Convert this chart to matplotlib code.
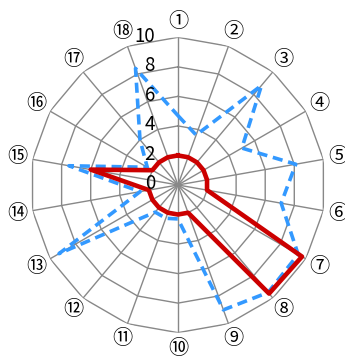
import numpy as np
import matplotlib
matplotlib.use('Agg')
import matplotlib.pyplot as plt
from matplotlib.transforms import offset_copy

plt.rcParams['font.family'] = ['Noto Sans CJK JP', 'DejaVu Sans']

axis_labels = ['①', '②', '③', '④', '⑤', '⑥', '⑦', '⑧', '⑨',
               '⑩', '⑪', '⑫', '⑬', '⑭', '⑮', '⑯', '⑰', '⑱']
red_values = [2, 2, 2, 2, 2, 2, 9.7, 9.6, 2, 2, 2, 2, 2, 2, 6.0, 2, 2, 2]
blue_values = [4.7, 3.6, 8.8, 5.0, 8.1, 7.1, 9.4, 9.5, 9.0,
               2.3, 2.4, 2.4, 9.3, 2.6, 7.5, 2.4, 4.0, 8.4]
rings = [2, 4, 6, 8, 10]
ring_labels = ['2', '4', '6', '8', '10']


def closed(vals):
    return list(vals) + [vals[0]]


n = len(axis_labels)
theta = np.linspace(0, 2 * np.pi, n, endpoint=False)
theta_c = closed(theta)

fig = plt.figure(figsize=(3.45, 3.62), dpi=100)
ax = fig.add_axes([0.0878, 0.081, 0.856, 0.816], projection='polar')
ax.set_theta_zero_location('N')
ax.set_theta_direction(-1)
ax.set_ylim(0, 10)
ax.grid(False)
ax.spines['polar'].set_visible(False)
ax.set_xticks([])
ax.set_yticks([])
ax.patch.set_alpha(0)

grid_col = '#888888'
for r in rings:
    ax.plot(theta_c, [r] * (n + 1), color=grid_col, lw=1.0, zorder=1)
for t in theta:
    ax.plot([t, t], [0, 10], color=grid_col, lw=1.0, zorder=1)

ax.plot(theta_c, closed(blue_values), color='#3399FF', lw=2.6,
        dashes=(2.8, 1.6), zorder=2)
ax.plot(theta_c, closed(red_values), color='#CC0000', lw=3.3, zorder=3)

for t, lab in zip(theta, axis_labels):
    ax.text(t, 11.05, lab, ha='center', va='center', fontsize=14.5,
            clip_on=False)

tick_tr = offset_copy(ax.transData, fig=fig, x=-23, y=1, units='dots')
ax.text(0, 0, '0', ha='right', va='center', fontsize=13.5, transform=tick_tr)
for r, lab in zip(rings, ring_labels):
    ax.text(0, r, lab, ha='right', va='center', fontsize=13.5,
            transform=tick_tr, clip_on=False)

fig.savefig('out.png', dpi=100)
